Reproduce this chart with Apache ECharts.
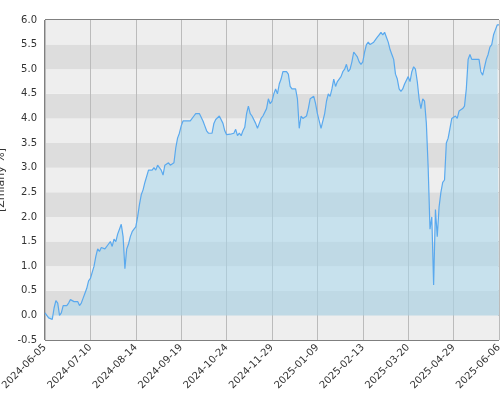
<!DOCTYPE html>
<html><head><meta charset="utf-8">
<script src="https://cdn.jsdelivr.net/npm/echarts@6/dist/echarts.min.js"></script>
<style>html,body{margin:0;padding:0;background:#fff}#c{width:500px;height:400px}</style>
</head><body><div id="c"></div>
<script>
const tickLabels = ["2024-06-05","2024-07-10","2024-08-14","2024-09-19","2024-10-24","2024-11-29","2025-01-09","2025-02-13","2025-03-20","2025-04-29","2025-06-06"];
const values = [
0.05,0.05,-0.05,-0.08,-0.08,0.15,0.3,0.25,0.0,0.05,0.2,0.2,0.2,0.25,0.32,0.3,0.28,0.28,0.28,0.2,0.25,0.35,0.45,0.55,0.7,0.75,
0.75,1.0,1.2,1.35,1.3,1.38,1.4,1.35,1.38,1.45,1.5,1.4,1.55,1.5,1.65,1.75,1.85,1.6,0.95,1.35,1.45,1.6,1.7,1.75,1.8,
2.0,2.25,2.45,2.55,2.7,2.7,2.95,2.95,2.95,3.0,2.95,3.05,3.0,2.95,2.85,3.05,3.05,3.1,3.05,3.05,3.1,3.4,3.6,3.7,3.85,
3.95,3.95,3.95,3.95,3.95,3.95,4.05,4.1,4.1,4.1,4.1,3.95,3.85,3.75,3.7,3.7,3.7,3.9,3.98,4.0,4.05,4.05,3.9,3.75,3.67,
3.65,3.68,3.72,3.7,3.78,3.65,3.7,3.65,3.75,3.82,4.1,4.25,4.1,4.05,4.05,3.9,3.8,3.9,4.0,4.05,4.05,4.2,4.4,4.3,4.35,
4.5,4.6,4.5,4.7,4.8,4.95,4.98,4.95,4.9,4.65,4.6,4.6,4.6,4.4,3.8,4.05,4.0,4.0,4.05,4.2,4.4,4.4,4.45,4.3,4.1,
3.95,3.8,3.8,4.1,4.35,4.5,4.45,4.6,4.8,4.65,4.75,4.8,4.85,4.95,5.0,5.1,4.95,5.0,5.15,5.35,5.35,5.25,5.15,5.1,5.15,
5.35,5.5,5.55,5.5,5.5,5.55,5.6,5.65,5.7,5.75,5.7,5.75,5.65,5.55,5.4,5.3,5.2,4.9,4.8,4.6,4.55,4.6,4.7,4.7,4.85,
4.75,4.95,5.05,5.0,4.75,4.4,4.2,4.4,4.35,3.9,3.0,1.75,2.0,0.62,2.15,1.6,2.2,2.5,2.7,2.75,3.5,3.6,3.8,4.0,4.0,
4.05,4.0,4.15,4.15,4.2,4.25,4.6,5.2,5.3,5.2,5.2,5.2,5.2,5.2,4.95,4.88,4.9,5.2,5.3,5.45,5.5,5.7,5.8,5.9,5.9
];
const categories = values.map((v,i)=>i);
const chart = echarts.init(document.getElementById('c'));
chart.setOption({
  animation:false,
  grid:{left:45,right:1,top:20,bottom:60,outerBoundsMode:'none',containLabel:false,show:true,borderColor:'#000',borderWidth:1,backgroundColor:'transparent'},
  xAxis:{type:'category',data:categories,boundaryGap:false,
    axisLine:{show:false},axisTick:{show:false},
    axisLabel:{interval:24,rotate:45,fontSize:10,color:'#333',margin:6,fontFamily:'DejaVu Sans',
      formatter:(v,i)=>tickLabels[Math.round(i/25)]},
    splitLine:{show:true,interval:24,lineStyle:{color:'#bbb',width:1}}},
  yAxis:{type:'value',min:-0.5,max:6,interval:0.5,
    name:'[Zmiany %]',nameLocation:'middle',nameGap:30,nameRotate:90,
    nameTextStyle:{fontSize:11,color:'#333',fontFamily:'DejaVu Sans'},
    axisLine:{show:false},axisTick:{show:false},
    axisLabel:{formatter:v=>v.toFixed(1),fontSize:10,color:'#333',fontFamily:'DejaVu Sans'},
    splitLine:{show:false},
    splitArea:{show:true,areaStyle:{color:['#eeeeee','#dddddd']}}},
  series:[{type:'line',data:values,symbol:'none',
    lineStyle:{color:'#5aa9ee',width:1.2},
    areaStyle:{color:'rgba(168,214,236,0.8)',origin:0}}]
});
</script></body></html>
